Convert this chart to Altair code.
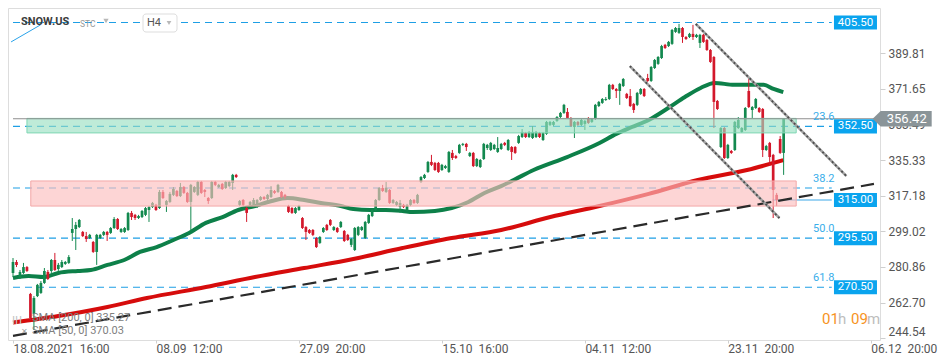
import altair as alt
import pandas as pd
import numpy as np

# ---------------- data ----------------
bar_open = [277.8, 283.4, 275.2, 277.8, 280.8, 267.1, 256.9, 266.0, 267.6, 272.7,
            278.3, 278.8, 284.4, 279.8, 280.8, 282.4, 282.9, 298.2, 300.2, 301.2,
            298.7, 296.6, 295.6, 293.6, 288.5, 295.6, 297.2, 298.7, 298.2, 300.7,
            305.3, 298.7, 298.7, 299.7, 308.4, 307.4, 305.8, 306.3, 307.4, 309.9,
            311.4, 312.5, 310.9, 319.1, 312.5, 314.0, 317.6, 319.6, 317.0, 321.6,
            318.6, 314.0, 319.1, 317.6, 324.2, 320.1, 316.0, 316.0, 324.2, 321.6,
            323.2, 321.1, 322.1, 323.7, 327.8, 312.5, 315.0, 310.9, 312.5, 312.5,
            311.4, 315.0, 316.5, 315.5, 316.5, 319.6, 319.1, 319.1, 317.6, 311.9,
            310.9, 308.4, 309.9, 305.8, 301.2, 299.7, 299.7, 295.6, 293.1, 298.7,
            302.3, 304.8, 299.7, 300.7, 301.2, 299.2, 297.2, 292.1, 289.5, 297.2,
            299.7, 295.6, 303.3, 306.8, 309.9, 315.0, 321.1, 319.1, 320.1, 313.5,
            312.5, 311.4, 312.5, 309.9, 312.5, 315.0, 313.5, 324.2, 326.2, 329.3,
            334.4, 333.9, 333.9, 330.3, 331.3, 329.3, 339.0, 337.4, 339.0, 343.1,
            343.6, 337.4, 339.0, 332.3, 331.8, 335.9, 341.5, 340.5, 341.0, 339.5,
            341.0, 344.1, 340.5, 342.0, 342.0, 344.1, 347.1, 349.2, 347.1, 346.6,
            347.1, 349.2, 345.6, 348.7, 353.3, 353.3, 355.3, 357.3, 359.4, 359.9,
            356.8, 352.2, 354.8, 353.3, 353.8, 356.8, 354.8, 356.3, 362.9, 364.5,
            366.0, 366.5, 373.7, 371.6, 370.6, 373.1, 369.1, 368.0, 364.0, 363.5,
            369.1, 371.6, 377.2, 375.7, 382.3, 384.4, 387.4, 394.1, 393.5, 394.6,
            400.7, 400.2, 402.7, 398.1, 398.1, 399.7, 398.1, 395.1, 399.2, 396.6,
            391.5, 387.9, 365.5, 342.0, 351.7, 336.4, 340.0, 340.5, 351.7, 349.7,
            350.7, 370.6, 360.9, 361.9, 361.9, 361.4, 340.5, 344.1, 338.0, 317.6,
            346.1, 339.0]
bar_high = [285.4, 284.4, 279.3, 282.9, 281.3, 267.6, 266.0, 272.2, 273.7, 280.3,
            279.3, 284.9, 288.0, 282.9, 284.4, 283.9, 286.9, 305.8, 303.8, 305.3,
            299.2, 298.7, 297.7, 294.1, 297.7, 297.7, 299.2, 299.2, 301.2, 306.3,
            305.8, 300.7, 301.2, 308.9, 309.4, 307.9, 307.4, 309.9, 311.4, 311.9,
            314.0, 313.0, 320.1, 320.1, 315.0, 319.1, 321.6, 320.1, 323.7, 322.1,
            319.1, 323.2, 322.1, 324.7, 324.7, 320.6, 316.5, 324.7, 324.7, 323.2,
            323.7, 324.7, 324.7, 328.3, 328.3, 315.0, 315.5, 311.4, 314.5, 316.0,
            315.5, 317.0, 317.0, 318.1, 322.1, 320.1, 323.2, 319.6, 318.1, 312.5,
            311.4, 311.4, 312.5, 306.3, 301.7, 300.2, 300.2, 296.1, 296.6, 301.2,
            302.8, 305.3, 301.7, 301.2, 304.3, 299.7, 297.7, 295.6, 301.2, 301.7,
            301.7, 304.3, 307.9, 310.4, 315.5, 321.6, 322.7, 324.2, 320.6, 315.5,
            314.5, 315.0, 313.0, 313.0, 315.5, 315.5, 318.1, 327.2, 328.3, 334.9,
            338.0, 334.4, 334.4, 333.4, 332.9, 340.0, 340.5, 338.0, 343.6, 344.1,
            344.1, 339.5, 339.5, 336.4, 335.9, 344.1, 343.6, 344.6, 343.6, 347.1,
            344.1, 344.6, 346.1, 342.5, 342.5, 348.2, 351.2, 349.7, 350.2, 352.7,
            350.2, 349.7, 349.7, 355.3, 355.3, 355.3, 357.8, 359.9, 364.0, 361.9,
            357.3, 355.3, 355.3, 356.3, 355.8, 357.3, 356.8, 364.0, 365.5, 367.0,
            367.5, 374.2, 374.2, 372.1, 374.7, 377.2, 369.6, 371.6, 364.5, 370.1,
            372.1, 372.1, 379.3, 383.3, 386.9, 388.4, 394.1, 394.6, 396.1, 402.2,
            403.2, 404.8, 403.2, 398.6, 400.2, 404.3, 399.7, 399.7, 399.7, 397.1,
            392.0, 388.4, 366.0, 352.2, 352.2, 343.6, 340.5, 355.3, 357.3, 352.2,
            362.4, 377.2, 362.9, 367.0, 362.4, 361.9, 343.1, 344.6, 338.5, 318.6,
            347.6, 356.8]
bar_low = [275.7, 280.8, 274.7, 277.3, 278.3, 253.8, 248.7, 265.5, 267.1, 272.2,
           274.2, 277.8, 278.8, 278.8, 280.3, 281.9, 282.4, 294.1, 289.5, 300.7,
           296.1, 293.6, 295.1, 288.0, 281.9, 295.1, 296.6, 294.1, 297.7, 300.2,
           299.7, 298.2, 298.2, 299.2, 304.8, 304.8, 305.3, 305.8, 306.8, 303.8,
           310.9, 309.4, 310.4, 315.5, 308.9, 313.5, 317.0, 316.5, 316.5, 318.1,
           313.5, 299.2, 318.6, 317.0, 318.1, 316.5, 313.0, 315.5, 322.1, 321.1,
           320.1, 320.6, 321.6, 320.1, 326.2, 311.9, 311.9, 303.8, 311.9, 311.9,
           310.9, 314.5, 315.0, 315.0, 316.0, 318.1, 318.6, 316.0, 315.5, 308.4,
           307.9, 307.9, 309.4, 300.2, 294.6, 297.7, 296.6, 290.5, 292.6, 298.2,
           299.2, 301.7, 299.2, 298.2, 300.7, 293.6, 294.1, 291.0, 289.0, 296.6,
           299.2, 295.1, 302.8, 306.3, 309.4, 314.5, 319.1, 318.6, 313.0, 313.0,
           311.9, 308.4, 310.9, 309.4, 311.9, 313.0, 313.0, 323.7, 325.7, 328.8,
           332.3, 329.8, 328.8, 329.8, 330.8, 328.8, 335.4, 335.9, 338.5, 342.5,
           340.0, 336.9, 331.8, 331.8, 331.3, 335.4, 340.5, 340.0, 340.5, 339.0,
           340.5, 342.5, 340.0, 335.4, 338.5, 343.6, 346.6, 346.6, 346.6, 346.1,
           346.6, 346.6, 345.1, 348.2, 352.7, 352.7, 354.8, 356.8, 358.9, 356.3,
           352.2, 346.6, 352.7, 352.7, 350.7, 353.8, 354.3, 355.8, 362.4, 364.0,
           365.5, 366.0, 371.1, 367.0, 363.5, 372.6, 366.5, 362.4, 359.4, 362.9,
           368.6, 367.5, 375.2, 375.2, 381.8, 383.9, 386.9, 392.0, 393.0, 394.1,
           400.2, 399.7, 395.1, 396.6, 397.6, 396.6, 397.6, 392.5, 395.1, 391.0,
           384.9, 351.7, 360.9, 341.5, 335.9, 335.9, 338.5, 340.0, 351.2, 349.2,
           350.2, 361.9, 356.8, 361.4, 359.4, 336.9, 340.0, 332.3, 305.8, 311.9,
           338.5, 327.8]
bar_close = [283.4, 281.9, 278.3, 280.8, 278.8, 254.8, 265.0, 271.7, 272.7, 278.8,
             274.7, 284.4, 279.3, 281.9, 283.4, 283.4, 285.9, 300.2, 302.3, 304.8,
             296.6, 295.1, 297.2, 288.5, 297.2, 297.2, 298.7, 297.2, 300.7, 305.3,
             300.2, 300.2, 300.7, 308.4, 306.3, 305.8, 306.8, 309.4, 310.9, 311.4,
             313.5, 309.9, 319.1, 316.0, 314.5, 318.1, 320.6, 317.0, 321.6, 318.6,
             314.0, 322.7, 321.6, 324.2, 318.6, 319.1, 314.5, 324.2, 322.7, 322.7,
             320.6, 324.2, 324.2, 327.8, 326.7, 314.5, 312.5, 308.4, 314.0, 315.0,
             315.0, 316.5, 315.5, 317.6, 320.1, 318.6, 322.7, 316.5, 316.5, 308.9,
             308.4, 310.9, 311.9, 300.7, 298.7, 298.2, 297.2, 291.0, 296.1, 300.7,
             299.7, 302.3, 301.2, 298.7, 303.8, 294.1, 294.6, 295.1, 300.7, 301.2,
             301.2, 303.8, 307.4, 309.9, 315.0, 321.1, 319.6, 321.1, 313.5, 315.0,
             314.0, 313.5, 311.4, 312.5, 315.0, 313.5, 317.6, 326.7, 327.8, 334.4,
             332.9, 330.3, 329.3, 332.9, 332.3, 339.5, 336.4, 336.4, 343.1, 343.6,
             342.0, 339.0, 332.3, 335.9, 335.4, 343.6, 343.1, 344.1, 343.1, 341.5,
             343.6, 343.1, 345.6, 339.5, 339.0, 347.6, 349.7, 347.1, 349.7, 349.7,
             349.7, 347.1, 349.2, 354.8, 354.8, 354.8, 357.3, 359.4, 363.5, 356.8,
             352.7, 354.8, 353.3, 355.8, 355.3, 354.3, 356.3, 363.5, 365.0, 366.5,
             366.5, 373.7, 371.6, 370.6, 374.2, 376.7, 367.0, 362.9, 360.9, 369.6,
             371.6, 368.0, 375.7, 382.8, 386.4, 387.9, 393.5, 392.5, 395.6, 401.7,
             402.7, 402.7, 398.1, 397.1, 399.7, 398.1, 399.2, 399.2, 395.6, 391.5,
             385.4, 365.0, 361.4, 351.7, 336.4, 343.1, 339.0, 354.8, 355.8, 351.7,
             361.9, 362.4, 362.4, 366.5, 359.9, 340.5, 342.5, 336.9, 320.1, 315.0,
             339.0, 356.4]

sma200_bar = [0, 13.0, 27.1, 38.4, 55.3, 69.4, 83.5, 97.6, 111.7, 125.8, 140.0,
              154.1, 168.2, 182.3, 196.4, 210.5, 220.9]
sma200_val = [252.5, 255.8, 260.4, 265.0, 270.6, 275.7, 280.3, 284.9, 290.5, 295.6,
              299.7, 306.3, 311.9, 318.1, 325.2, 330.3, 335.3]
sma50_bar = [0, 4.5, 8.7, 13.0, 18.6, 22.3, 27.1, 31.9, 36.4, 41.2, 46.0, 50.5,
             55.3, 60.1, 64.6, 69.4, 74.2, 78.7, 83.5, 88.3, 94.0, 97.6, 102.4,
             106.9, 111.7, 114.6, 121.0, 125.8, 130.6, 135.2, 140.0, 143.6, 149.3,
             158.9, 168.2, 173.0, 177.5, 182.3, 187.9, 192.7, 197.2, 201.2, 206.8,
             211.3, 215.3, 218.1, 220.9]
sma50_val = [275.2, 276.2, 275.7, 277.8, 278.8, 279.3, 281.9, 284.4, 288.5, 291.0,
             294.6, 298.2, 303.3, 306.3, 309.9, 311.9, 314.5, 316.0, 315.0, 313.5,
             311.9, 310.4, 309.9, 309.9, 309.4, 308.9, 309.4, 310.9, 314.0, 318.6,
             322.1, 325.2, 330.3, 336.9, 344.1, 348.7, 352.2, 355.8, 361.9, 367.5,
             372.1, 374.7, 373.7, 373.7, 373.7, 371.6, 370.0]

x_tick_bars = [0, 41, 82, 123, 164, 205, 246]
x_tick_labels = ["18.08.2021\u00a0\u00a016:00", "08.09\u00a0\u00a012:00", "27.09\u00a0\u00a020:00",
                 "15.10\u00a0\u00a016:00", "04.11\u00a0\u00a012:00", "23.11\u00a0\u00a020:00",
                 "06.12\u00a0\u00a020:00"]
y_tick_values = [244.54, 262.70, 280.86, 299.02, 317.18, 335.33, 353.49, 371.65, 389.81]

level_prices = [405.5, 352.5, 321.1, 295.5, 270.5]
box_prices = [405.5, 352.5, 315.0, 295.5, 270.5]
fib_labels = ["23.6", "38.2", "50.0", "61.8"]
fib_prices = [352.5, 321.1, 295.5, 270.5]
target_price = [315.0]
last_price = 356.42
sma200_last = 335.27
sma50_last = 370.03

zone_top = [356.6, 324.7]
zone_bottom = [349.2, 311.9]
zone_start = [4.0, 5.1]
zone_end = [224.6, 224.6]

trend_bar = [0, 246.9]
trend_val = [245.7, 323.2]
chan_up_bar = [195.8, 239.0]
chan_up_val = [404.8, 327.2]
chan_lo_bar = [176.9, 219.8]
chan_lo_val = [383.3, 305.8]
mini_bar = [-0.56, 7.9]
mini_val = [395.6, 404.3]

# ---------------- chart ----------------
W, H = 872, 332
FONT = "Roboto"
XS = alt.Scale(domain=[0, 247.2], nice=False, zero=False)
YS = alt.Scale(domain=[243.6, 412.9], nice=False, zero=False)
GREEN, RED = "#13894f", "#d3182b"

n = len(bar_open)
df = pd.DataFrame({"bar": np.arange(n), "open": bar_open, "high": bar_high,
                   "low": bar_low, "close": bar_close})
df["dir"] = np.where(df["close"] >= df["open"], "up", "down")

expr = "''"
for b, lab in reversed(list(zip(x_tick_bars, x_tick_labels))):
    expr = f"datum.value == {b} ? '{lab}' : {expr}"

XAXIS = alt.Axis(values=x_tick_bars, labelExpr=expr, labelAlign="left", labelBaseline="top",
                 labelColor="#555555", labelFontSize=12, labelFont=FONT, tickSize=3,
                 tickColor="#d0d0d0", domain=False, grid=False, labelPadding=0,
                 labelFlush=False, labelOverlap=False, title=None, zindex=0)
YAXIS = alt.Axis(orient="right", values=y_tick_values, format=".2f", labelColor="#555555",
                 labelFontSize=12, labelFont=FONT, tickSize=5, tickColor="#cfcfcf",
                 domain=False, grid=False, labelPadding=3, labelFlush=4,
                 labelOverlap=False, title=None, zindex=0)


def X(field):
    return alt.X(field, type="quantitative", scale=XS, axis=XAXIS, title=None)


def Y(field):
    return alt.Y(field, type="quantitative", scale=YS, axis=YAXIS, title=None)


ldf = pd.DataFrame({"price": level_prices, "x0": 0.0, "x1": 234.8})
levels = alt.Chart(ldf).mark_rule(color="#1e9fe5", strokeWidth=1.2, strokeDash=[7, 5]).encode(
    x=X("x0"), x2="x1:Q", y=Y("price"))

tdf = pd.DataFrame({"price": target_price, "x0": 217.8, "x1": 234.8})
target = alt.Chart(tdf).mark_rule(color="#7cc5ef", strokeWidth=1.5).encode(
    x=X("x0"), x2="x1:Q", y=Y("price"))

s200 = alt.Chart(pd.DataFrame({"bar": sma200_bar, "val": sma200_val})).mark_line(
    color="#d60c0c", strokeWidth=4, interpolate="monotone").encode(x=X("bar"), y=Y("val"))
s50 = alt.Chart(pd.DataFrame({"bar": sma50_bar, "val": sma50_val})).mark_line(
    color="#0d8049", strokeWidth=4, interpolate="monotone").encode(x=X("bar"), y=Y("val"))

cscale = alt.Scale(domain=["up", "down"], range=[GREEN, RED])
wick = alt.Chart(df).mark_rule(strokeWidth=1).encode(
    x=X("bar"), y=Y("low"), y2="high:Q", color=alt.Color("dir:N", scale=cscale, legend=None))
body = alt.Chart(df).mark_bar(size=2.7).encode(
    x=X("bar"), y=Y("open"), y2="close:Q", color=alt.Color("dir:N", scale=cscale, legend=None))

gz = pd.DataFrame({"x0": [zone_start[0]], "x1": [zone_end[0]], "top": [zone_top[0]], "bot": [zone_bottom[0]]})
pz = pd.DataFrame({"x0": [zone_start[1]], "x1": [zone_end[1]], "top": [zone_top[1]], "bot": [zone_bottom[1]]})
zone_g = alt.Chart(gz).mark_rect(fill="#99e0c2", fillOpacity=0.64, stroke="#7fd6b4",
                                 strokeWidth=1).encode(x=X("x0"), x2="x1:Q", y=Y("top"), y2="bot:Q")
zone_p = alt.Chart(pz).mark_rect(fill="#fcbdbd", fillOpacity=0.64, stroke="#f3a8a8",
                                 strokeWidth=1).encode(x=X("x0"), x2="x1:Q", y=Y("top"), y2="bot:Q")

pl = pd.DataFrame({"price": [last_price], "x0": 0.0, "x1": 248.5})
price_line = alt.Chart(pl).mark_rule(color="#8e8e8e", strokeWidth=1).encode(
    x=X("x0"), x2="x1:Q", y=Y("price"))

trend = alt.Chart(pd.DataFrame({"bar": trend_bar, "val": trend_val})).mark_line(
    color="#2a2a2a", strokeWidth=2.2, strokeDash=[14, 7]).encode(x=X("bar"), y=Y("val"))


def channel(bars, vals):
    d = pd.DataFrame({"bar": bars, "val": vals})
    base = alt.Chart(d).mark_line(color="#a3a3a3", strokeWidth=2.6).encode(x=X("bar"), y=Y("val"))
    dots = alt.Chart(d).mark_line(color="#4d4d4d", strokeWidth=1.8, strokeDash=[2, 2.5]).encode(
        x=X("bar"), y=Y("val"))
    return [base, dots]


mini = alt.Chart(pd.DataFrame({"bar": mini_bar, "val": mini_val})).mark_line(
    color="#29a3ea", strokeWidth=1, clip=True).encode(x=X("bar"), y=Y("val"))

BOX = "M-1,-0.33H1V0.33H-1Z"
bdf = pd.DataFrame({"price": box_prices, "bx": 241.6,
                    "label": [f"{p:.2f}" for p in box_prices]})
boxes = alt.Chart(bdf).mark_point(shape=BOX, size=1849, filled=True, color="#0aa4ee",
                                  opacity=1, strokeWidth=0).encode(x=X("bx"), y=Y("price"))
box_txt = alt.Chart(bdf).mark_text(color="white", fontSize=11.5, font=FONT, align="center",
                                   baseline="middle").encode(x=X("bx"), y=Y("price"), text="label:N")

TAG = "M-1,0L-0.73,-0.26L1,-0.26L1,0.26L-0.73,0.26Z"
tg = pd.DataFrame({"price": [last_price], "bx": 255.0, "tx": 256.3, "label": [f"{last_price:.2f}"]})
tag = alt.Chart(tg).mark_point(shape=TAG, size=3481, filled=True, color="#8a9498",
                               opacity=1, strokeWidth=0).encode(x=X("bx"), y=Y("price"))
tag_txt = alt.Chart(tg).mark_text(color="white", fontSize=13, font=FONT, align="center",
                                  baseline="middle").encode(x=X("tx"), y=Y("price"), text="label:N")

fdf = pd.DataFrame({"price": fib_prices, "fx": 232.5, "label": fib_labels})
fib_txt = alt.Chart(fdf).mark_text(color="#3aaeea", fontSize=11, font=FONT, align="center",
                                   baseline="middle", dy=-9).encode(x=X("fx"), y=Y("price"), text="label:N")


def ptext(txt, px, py, **kw):
    return alt.Chart(pd.DataFrame({"t": [txt]})).mark_text(font=FONT, baseline="middle", **kw).encode(
        x=alt.value(px), y=alt.value(py), text="t:N")


def pmark(px, py, **kw):
    return alt.Chart(pd.DataFrame({"t": [0]})).mark_point(**kw).encode(x=alt.value(px), y=alt.value(py))


h4_box = alt.Chart(pd.DataFrame({"t": [0]})).mark_rect(
    fill="white", stroke="#dddddd", strokeWidth=1, cornerRadius=3).encode(
    x=alt.value(135), x2=alt.value(169), y=alt.value(6), y2=alt.value(24))

ui = [
    ptext("SNOW.US", 13, 14, align="left", fontSize=11, fontWeight="bold", color="#3c3c3c"),
    ptext("STC", 72, 16, align="left", fontSize=8.5, color="#9a9a9a"),
    pmark(98, 13, shape="triangle-down", filled=True, size=28, color="#b8b8b8", opacity=1),
    h4_box,
    ptext("H4", 139, 15, align="left", fontSize=11, color="#555555"),
    pmark(161, 15, shape="triangle-down", filled=True, size=22, color="#b8b8b8", opacity=1),
    ptext(f"SMA  [200,  0]  {sma200_last:.2f}", 24, 310, align="left", fontSize=11, color="#808080"),
    ptext(f"SMA  [50,  0]  {sma50_last:.2f}", 24, 323, align="left", fontSize=11, color="#808080"),
    ptext("\u2630", 8, 312, align="center", fontSize=11, color="#c4c4c4", angle=90),
    ptext("\u2715", 16, 324, align="center", fontSize=8, color="#a0a0a0"),
    ptext("01", 814, 311, align="left", fontSize=15, color="#f7931e"),
    ptext("h", 830, 311, align="left", fontSize=15, color="#bdbdbd"),
    ptext("09", 843, 311, align="left", fontSize=15, color="#f7931e"),
    ptext("m", 859, 311, align="left", fontSize=15, color="#bdbdbd"),
]

layers = [levels, target, s200, s50, wick, body, zone_g, zone_p, price_line, trend]
layers += channel(chan_up_bar, chan_up_val) + channel(chan_lo_bar, chan_lo_val)
layers += [mini, boxes, box_txt, tag, tag_txt, fib_txt] + ui

chart = alt.layer(*layers).properties(
    width=W, height=H,
    autosize=alt.AutoSizeParams(type="none"),
    padding={"left": 0, "top": 0, "right": 62, "bottom": 22},
    background="white",
).configure_view(stroke=None).configure(font=FONT)

chart.save("out.html", embed_options={"renderer": "svg", "actions": False})
